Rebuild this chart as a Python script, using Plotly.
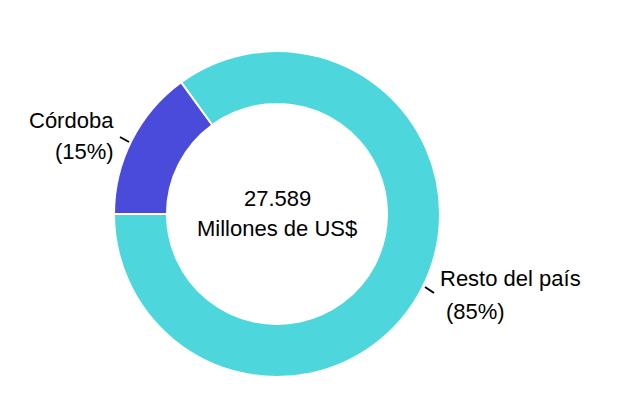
import plotly.graph_objects as go

labels = ["Córdoba", "Resto del país"]
values = [4138, 23451]
colors = ["#4b4bdb", "#4dd7dd"]
center_unit = "Millones de US$"

W, H = 640, 419
OFF = 8  # page body margin
total = sum(values)
pcts = [v / total * 100 for v in values]

def px(x):
    return (x - OFF) / W

def py(y):
    return (H - (y - OFF)) / H

cx, cy, r = 277, 214, 163

fig = go.Figure(go.Pie(
    labels=labels, values=values, hole=0.675, sort=False, direction="clockwise",
    rotation=270, textinfo="none", hoverinfo="label+percent",
    marker=dict(colors=colors, line=dict(color="white", width=2)),
    domain=dict(x=[px(cx - r), px(cx + r)], y=[py(cy + r), py(cy - r)]),
    showlegend=False,
))

font = dict(family="Liberation Sans, Arial, sans-serif", size=22, color="black")
total_txt = f"{total:,}".replace(",", ".")

def label(text, x, y, anchor):
    fig.add_annotation(x=px(x), y=py(y), xref="paper", yref="paper", text=text,
                       showarrow=False, font=font, xanchor=anchor, yanchor="middle",
                       borderpad=0)

label(total_txt, cx, 198, "center")
label(center_unit, cx, 228, "center")
label(labels[0], 115, 120, "right")
label(f"({pcts[0]:.0f}%)", 115, 151, "right")
label(labels[1], 439, 278, "left")
label(f"({pcts[1]:.0f}%)", 445, 311, "left")

for (x0, y0, x1, y1) in [(120, 137, 129, 142), (425, 287, 434, 293)]:
    fig.add_shape(type="line", xref="paper", yref="paper",
                  x0=px(x0), y0=py(y0), x1=px(x1), y1=py(y1),
                  line=dict(color="black", width=2))

fig.update_layout(width=W, height=H, margin=dict(l=0, r=0, t=0, b=0),
                  paper_bgcolor="white", plot_bgcolor="white")
fig.write_html("out.html")
